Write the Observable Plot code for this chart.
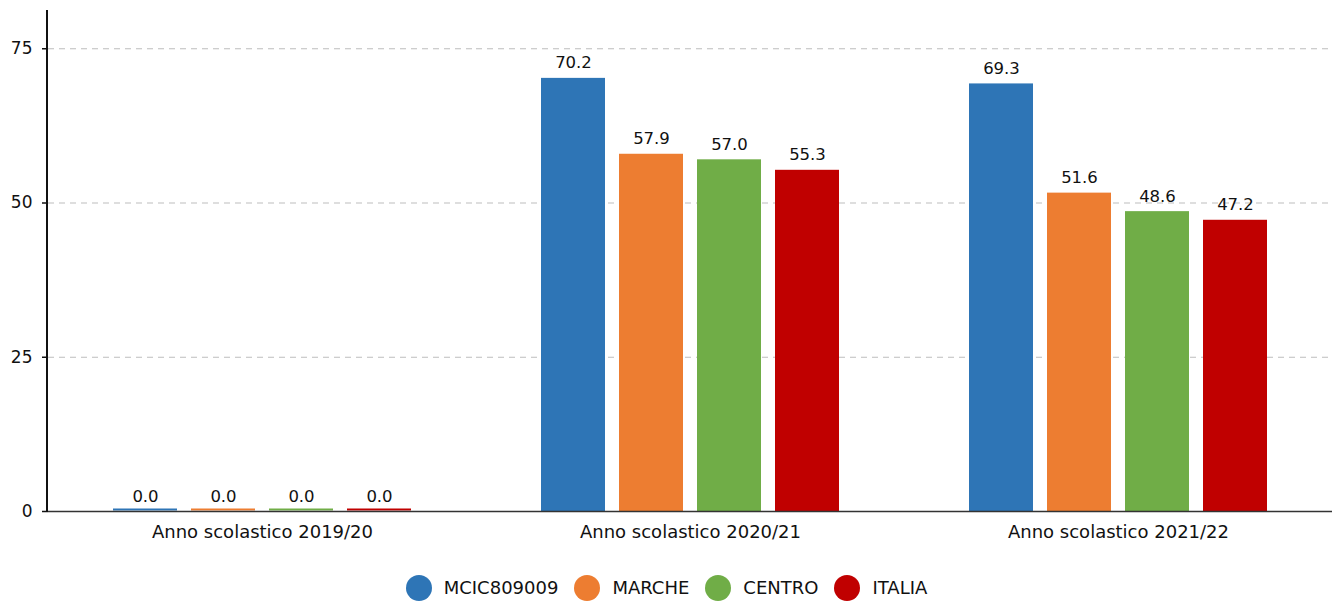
<!DOCTYPE html>
<html>
<head>
<meta charset="utf-8">
<script src="https://cdn.jsdelivr.net/npm/d3@7"></script>
<script src="https://cdn.jsdelivr.net/npm/@observablehq/plot@0.6"></script>
<style>
  html, body { margin: 0; padding: 0; background: #fff; }
  body { width: 1333px; font-family: "DejaVu Sans", sans-serif; }
  #legend { display: flex; justify-content: center; align-items: center; height: 43px; margin-top: 9px; font-size: 18px; color: #111; }
  .item { display: flex; align-items: center; margin: 0 8px; }
  .dot { width: 26px; height: 26px; border-radius: 50%; margin-right: 12px; }
</style>
</head>
<body>
<div id="chart"></div>
<div id="legend"></div>
<script>
const categories = ["Anno scolastico 2019/20", "Anno scolastico 2020/21", "Anno scolastico 2021/22"];
const seriesNames = ["MCIC809009", "MARCHE", "CENTRO", "ITALIA"];
const seriesColors = ["#2E75B6", "#ED7D31", "#70AD47", "#C00000"];
const mcic = [0.0, 70.2, 69.3];
const marche = [0.0, 57.9, 51.6];
const centro = [0.0, 57.0, 48.6];
const italia = [0.0, 55.3, 47.2];
const yTicks = [0, 25, 50, 75];

const valuesBySeries = [mcic, marche, centro, italia];
const data = [];
categories.forEach((c, i) => {
  seriesNames.forEach((s, j) => {
    data.push({cat: c, series: s, value: valuesBySeries[j][i]});
  });
});
const zeros = data.filter(d => d.value === 0);

const chart = Plot.plot({
  width: 1333,
  height: 557,
  marginLeft: 47,
  marginRight: 0,
  marginTop: 10,
  marginBottom: 46,
  style: {fontFamily: "DejaVu Sans, sans-serif", fontSize: "17px", color: "#111", background: "#fff"},
  fx: {domain: categories, padding: 0, label: null, axis: null},
  x: {domain: seriesNames, axis: null, paddingInner: 0.174, paddingOuter: 0.807},
  y: {domain: [0, 81.2], ticks: yTicks, label: null, axis: null},
  color: {domain: seriesNames, range: seriesColors},
  marks: [
    Plot.gridY(yTicks.filter(t => t > 0), {stroke: "#bdbdbd", strokeOpacity: 1, strokeDasharray: "6,5"}),
    Plot.axisY(yTicks, {tickSize: 6, tickPadding: 10, fontSize: 17, stroke: "#111", strokeWidth: 1.5, label: null}),
    Plot.axisFx({anchor: "bottom", tickSize: 0, tickPadding: 14, fontSize: 18, label: null}),
    Plot.barY(data, {fx: "cat", x: "series", y: "value", fill: "series"}),
    Plot.tickY(zeros, {fx: "cat", x: "series", y: "value", stroke: "series", strokeWidth: 2, dy: -2}),
    Plot.ruleY([0], {stroke: "#333", strokeWidth: 1.5}),
    Plot.text(data, {fx: "cat", x: "series", y: "value", text: d => d.value.toFixed(1), lineAnchor: "bottom", dy: -10, fill: "#111", fontSize: 16.5})
  ]
});
document.getElementById("chart").appendChild(chart);

// y-axis line along the left edge of the plot, from the y scale's range
{
  const yr = chart.scale("y").range;
  const fxr = chart.scale("fx").range;
  d3.select(chart).append("line")
    .attr("x1", fxr[0]).attr("x2", fxr[0])
    .attr("y1", yr[1]).attr("y2", yr[0])
    .attr("stroke", "#111").attr("stroke-width", 2);
}

const legend = document.getElementById("legend");
seriesNames.forEach((s, i) => {
  const item = document.createElement("div");
  item.className = "item";
  const dot = document.createElement("div");
  dot.className = "dot";
  dot.style.background = seriesColors[i];
  const label = document.createElement("span");
  label.textContent = s;
  item.appendChild(dot);
  item.appendChild(label);
  legend.appendChild(item);
});
</script>
</body>
</html>
